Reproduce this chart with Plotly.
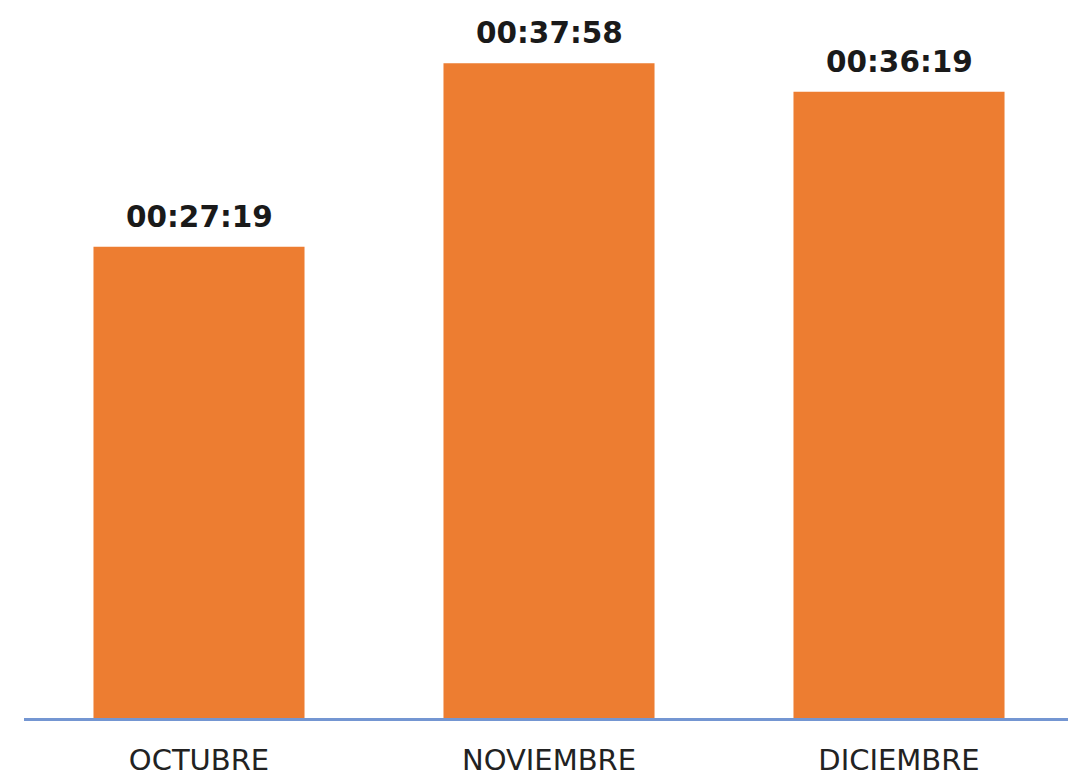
import plotly.graph_objects as go

months = ["OCTUBRE", "NOVIEMBRE", "DICIEMBRE"]
durations_sec = [1639, 2278, 2179]  # 00:27:19, 00:37:58, 00:36:19


def hms(s):
    return "%02d:%02d:%02d" % (s // 3600, (s % 3600) // 60, s % 60)


fig = go.Figure(go.Bar(
    x=months,
    y=durations_sec,
    marker=dict(color="#ED7D31", line=dict(width=0)),
    cliponaxis=False,
))

# value labels above bars
for m, v in zip(months, durations_sec):
    fig.add_annotation(
        x=m, y=v, text="<b>%s</b>" % hms(v),
        showarrow=False, yanchor="bottom", yshift=11,
        font=dict(family="DejaVu Sans", size=29.5, color="#1a1a1a"),
    )

# page body has an 8px margin, so the figure is made 8px smaller
fig.update_layout(
    width=1068, height=766,
    margin=dict(l=16, r=2, t=0, b=56),
    plot_bgcolor="white",
    paper_bgcolor="white",
    bargap=0.397,
    showlegend=False,
    xaxis=dict(
        showline=True, linecolor="#7496D2", linewidth=3,
        showgrid=False, ticks="", automargin=False,
        ticklabelstandoff=14,
        tickfont=dict(family="DejaVu Sans", size=29, color="#222222"),
    ),
    yaxis=dict(range=[0, 2470], visible=False, showgrid=False,
               zeroline=False, automargin=False),
)

fig.write_html("out.html")
